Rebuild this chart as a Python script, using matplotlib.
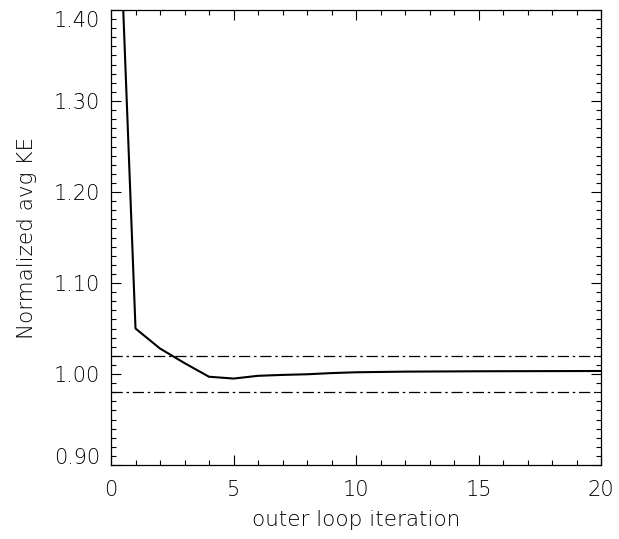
import matplotlib
matplotlib.use("Agg")
import matplotlib.pyplot as plt
from matplotlib.ticker import MultipleLocator
from matplotlib.transforms import ScaledTranslation

# normalized average kinetic energy per outer loop iteration
iterations = [0, 1, 2, 3, 4, 5, 6, 7, 8, 9, 10, 12, 15, 20]
avg_ke = [1.75, 1.050, 1.028, 1.012, 0.997, 0.995, 0.998, 0.999, 0.9997,
          1.001, 1.0019, 1.0026, 1.003, 1.0033]

band = [0.98, 1.02]
yticks = [0.90, 1.00, 1.10, 1.20, 1.30, 1.40]
xticks = [0, 5, 10, 15, 20]

plt.rcParams['font.family'] = ['DejaVu Sans']
plt.rcParams['font.weight'] = 'light'
plt.rcParams['axes.labelweight'] = 'light'
txt = 'black'

fig = plt.figure(figsize=(6.19, 5.39), dpi=100)
ax = fig.add_axes([111 / 619, 74 / 539, 490 / 619, 455 / 539])

ax.plot(iterations, avg_ke, color='black', lw=1.5)
for b in band:
    ax.axhline(b, color='black', lw=0.9, ls=(0, (9, 3, 2, 3)))

ax.set_xlim(0, 20)
ax.set_ylim(0.90, 1.40)
ax.set_xticks(xticks)
ax.set_xticklabels([str(x) for x in xticks])
ax.set_yticks(yticks)
ax.set_yticklabels([f"{y:.2f}" for y in yticks])
ax.xaxis.set_minor_locator(MultipleLocator(1))
ax.yaxis.set_minor_locator(MultipleLocator(0.01))

ax.tick_params(which='both', direction='in', top=True, right=True,
               labelsize=15, width=0.8, color='black', labelcolor=txt)
ax.tick_params(which='major', length=7)
ax.tick_params(which='minor', length=3.5)
ax.tick_params(axis='x', pad=11)
ax.tick_params(axis='y', pad=8)
for s in ax.spines.values():
    s.set_linewidth(0.9)

# IDL pulls the end labels of the y axis inward
fig.canvas.draw()
labels = ax.get_yticklabels()
shift = 9 / 100
labels[0].set_transform(labels[0].get_transform() + ScaledTranslation(0, shift, fig.dpi_scale_trans))
labels[-1].set_transform(labels[-1].get_transform() + ScaledTranslation(0, -shift, fig.dpi_scale_trans))

ax.set_xlabel("outer loop iteration", fontsize=15.5, fontweight='light', color=txt, labelpad=7)
ax.set_ylabel("Normalized avg KE", fontsize=15.5, fontweight='light', color=txt, labelpad=12)

fig.savefig("out.png", dpi=100)
